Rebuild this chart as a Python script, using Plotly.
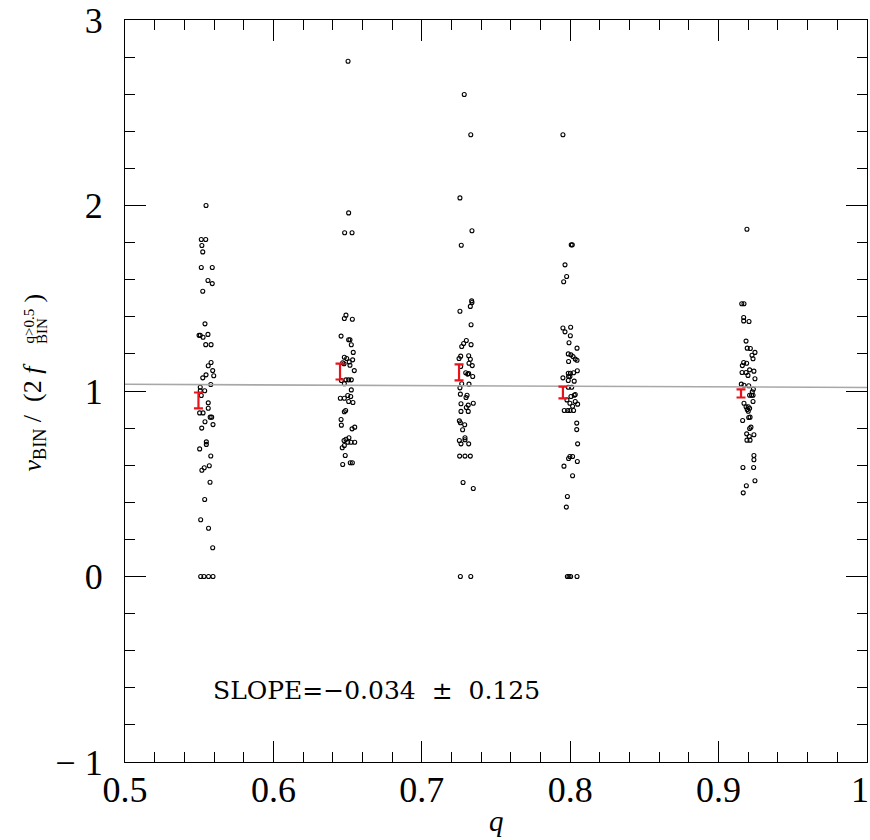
import plotly.graph_objects as go

# ---------------- data ----------------
q1 = [0.5546, 0.5514, 0.5544, 0.5518, 0.5524, 0.5514, 0.5588, 0.5559, 0.5588, 0.5524,
      0.5539, 0.5499, 0.5507, 0.5526, 0.5559, 0.5544, 0.5580, 0.5580, 0.5561, 0.5591,
      0.5546, 0.5524, 0.5598, 0.5578, 0.5507, 0.5507, 0.5537, 0.5514, 0.5561, 0.5561,
      0.5503, 0.5526, 0.5574, 0.5584, 0.5593, 0.5539, 0.5517, 0.5548, 0.5548, 0.5503,
      0.5578, 0.5568, 0.5534, 0.5518, 0.5573, 0.5537, 0.5510, 0.5563, 0.5591,
      0.5510, 0.5532, 0.5563, 0.5593]
v1 = [2.000, 1.817, 1.817, 1.784, 1.750, 1.666, 1.666, 1.596, 1.579, 1.538,
      1.362, 1.300, 1.300, 1.290, 1.305, 1.250, 1.250, 1.154, 1.136, 1.110,
      1.087, 1.071, 1.082, 1.035, 1.020, 1.001, 1.001, 0.976, 0.936, 0.907,
      0.882, 0.882, 0.859, 0.859, 0.819, 0.834, 0.800, 0.726, 0.712, 0.688,
      0.650, 0.597, 0.586, 0.573, 0.508, 0.415, 0.306, 0.260, 0.155,
      0.0, 0.0, 0.0, 0.0]

q2 = [0.6503, 0.6507, 0.6480, 0.6530, 0.6489, 0.6478, 0.6532, 0.6456, 0.6507, 0.6516,
      0.6525, 0.6538, 0.6478, 0.6494, 0.6511, 0.6534, 0.6467, 0.6476, 0.6516, 0.6545,
      0.6458, 0.6489, 0.6507, 0.6525, 0.6478, 0.6525, 0.6451, 0.6478, 0.6501, 0.6521,
      0.6507, 0.6536, 0.6478, 0.6487, 0.6456, 0.6548, 0.6530, 0.6458, 0.6509, 0.6489,
      0.6476, 0.6523, 0.6548, 0.6501, 0.6464, 0.6478, 0.6484, 0.6518, 0.6532, 0.6467]
v2 = [2.778, 1.960, 1.853, 1.853, 1.409, 1.391, 1.387, 1.296, 1.276, 1.276,
      1.249, 1.208, 1.182, 1.175, 1.157, 1.168, 1.152, 1.147, 1.139, 1.110,
      1.057, 1.060, 1.060, 1.060, 1.039, 1.006, 0.961, 0.961, 0.976, 0.970,
      0.943, 0.938, 0.888, 0.895, 0.846, 0.805, 0.796, 0.816, 0.748, 0.740,
      0.733, 0.724, 0.724, 0.724, 0.694, 0.706, 0.652, 0.613, 0.613, 0.604]

q3 = [0.7286, 0.7330, 0.7257, 0.7338, 0.7266, 0.7336, 0.7338, 0.7327, 0.7257, 0.7332,
      0.7300, 0.7282, 0.7269, 0.7332, 0.7262, 0.7251, 0.7316, 0.7327, 0.7318, 0.7340,
      0.7262, 0.7296, 0.7316, 0.7309, 0.7343, 0.7269, 0.7318, 0.7257, 0.7260, 0.7305,
      0.7298, 0.7347, 0.7264, 0.7313, 0.7300, 0.7264, 0.7313, 0.7253, 0.7260, 0.7289,
      0.7275, 0.7291, 0.7291, 0.7253, 0.7264, 0.7316, 0.7255, 0.7291, 0.7327, 0.7278,
      0.7347, 0.7260, 0.7330]
v3 = [2.598, 2.381, 2.041, 1.864, 1.786, 1.486, 1.477, 1.456, 1.430, 1.357,
      1.272, 1.256, 1.240, 1.250, 1.188, 1.175, 1.190, 1.171, 1.150, 1.137,
      1.132, 1.098, 1.094, 1.091, 1.078, 1.039, 1.037, 1.017, 0.983, 0.977,
      0.965, 0.934, 0.931, 0.924, 0.911, 0.890, 0.890, 0.839, 0.829, 0.818,
      0.791, 0.748, 0.737, 0.733, 0.715, 0.715, 0.649, 0.649, 0.649, 0.507,
      0.474, 0.0, 0.0]

q4 = [0.7951, 0.8007, 0.8014, 0.7965, 0.7976, 0.7956, 0.7951, 0.7965, 0.8003, 0.8001,
      0.7992, 0.8046, 0.7987, 0.8005, 0.8019, 0.7989, 0.8034, 0.8046, 0.7987, 0.8001,
      0.8023, 0.8048, 0.7989, 0.7998, 0.7951, 0.7987, 0.8027, 0.7987, 0.8010, 0.8005,
      0.8027, 0.8034, 0.7978, 0.7998, 0.8016, 0.8034, 0.8050, 0.7960, 0.7983, 0.7998,
      0.8023, 0.8044, 0.8044, 0.8050, 0.7998, 0.8016, 0.7989, 0.7958, 0.8048, 0.8016,
      0.7981, 0.7974, 0.7981, 0.7992, 0.8003, 0.8046]
v4 = [2.381, 1.788, 1.788, 1.680, 1.617, 1.589, 1.340, 1.319, 1.344, 1.298,
      1.260, 1.231, 1.200, 1.195, 1.186, 1.159, 1.172, 1.166, 1.096, 1.096,
      1.098, 1.109, 1.078, 1.078, 1.071, 1.057, 1.053, 1.020, 1.020, 0.970,
      0.977, 0.981, 0.952, 0.934, 0.918, 0.943, 0.929, 0.895, 0.895, 0.895,
      0.895, 0.827, 0.792, 0.715, 0.647, 0.647, 0.636, 0.595, 0.620, 0.543,
      0.431, 0.374, 0.0, 0.0, 0.0, 0.0]

q5 = [0.9191, 0.9156, 0.9171, 0.9169, 0.9169, 0.9205, 0.9185, 0.9193, 0.9214, 0.9245,
      0.9225, 0.9232, 0.9169, 0.9189, 0.9160, 0.9209, 0.9238, 0.9185, 0.9158, 0.9198,
      0.9245, 0.9153, 0.9171, 0.9203, 0.9234, 0.9227, 0.9209, 0.9222, 0.9232, 0.9171,
      0.9232, 0.9185, 0.9200, 0.9209, 0.9200, 0.9193, 0.9162, 0.9203, 0.9212, 0.9218,
      0.9209, 0.9189, 0.9207, 0.9238, 0.9191, 0.9212, 0.9238, 0.9238, 0.9164, 0.9236,
      0.9245, 0.9187, 0.9166]
v5 = [1.872, 1.470, 1.470, 1.396, 1.378, 1.375, 1.269, 1.231, 1.229, 1.208,
      1.193, 1.174, 1.154, 1.150, 1.137, 1.114, 1.107, 1.100, 1.100, 1.084,
      1.066, 1.037, 1.031, 1.028, 1.010, 0.996, 0.977, 0.977, 0.977, 0.934,
      0.943, 0.915, 0.915, 0.907, 0.891, 0.900, 0.841, 0.857, 0.859, 0.805,
      0.798, 0.769, 0.755, 0.764, 0.735, 0.735, 0.652, 0.629, 0.588, 0.588,
      0.516, 0.489, 0.451]

bin_q = [0.5495, 0.6449, 0.7251, 0.7951, 0.9151]
bin_mean = [0.949, 1.105, 1.100, 0.992, 0.987]
bin_err = [0.043, 0.043, 0.043, 0.032, 0.022]

fit_q = [0.5, 1.0]
fit_y = [1.036, 1.019]

x_ticks = [0.5, 0.6, 0.7, 0.8, 0.9]
x_ticklabels = ["0.5", "0.6", "0.7", "0.8", "0.9"]
x_last_tick = 1.0
x_last_label = "1"
y_ticks = [-1, 0, 1, 2, 3]
y_ticklabels = ["\u2212 1", "0", "1", "2", "3"]

slope_text = "SLOPE=\u22120.034  \u00b1  0.125"

# ---------------- figure ----------------
FONT = "Liberation Serif"
fig = go.Figure()

all_q = q1 + q2 + q3 + q4 + q5
all_v = v1 + v2 + v3 + v4 + v5
fig.add_trace(go.Scatter(
    x=all_q, y=all_v, mode="markers",
    marker=dict(symbol="circle-open", size=4, color="black", line=dict(width=1.1, color="black")),
    showlegend=False, hoverinfo="skip", cliponaxis=False))

fig.add_trace(go.Scatter(
    x=fit_q, y=fit_y, mode="lines",
    line=dict(color="#a8a8a8", width=1.6), showlegend=False, hoverinfo="skip"))

fig.add_trace(go.Scatter(
    x=bin_q, y=bin_mean, mode="markers",
    marker=dict(size=1, color="rgba(0,0,0,0)"),
    error_y=dict(type="data", array=bin_err, color="#e8141c", thickness=2.2, width=4.5),
    showlegend=False, hoverinfo="skip"))

axis_common = dict(
    showgrid=False, zeroline=False, showline=True, linecolor="black", linewidth=1.3,
    mirror="ticks", ticks="inside", tickcolor="black", tickwidth=1.3, ticklen=21,
    tickfont=dict(family=FONT, size=36, color="black"), automargin=False,
    ticklabeloverflow="allow",
)

fig.update_xaxes(
    range=[0.5, 1.0], tickvals=x_ticks, ticktext=x_ticklabels,
    minor=dict(ticks="inside", ticklen=10, tickwidth=1.1, tickcolor="black", dtick=0.02, tick0=0.5),
    ticklabelstandoff=-4,
    **axis_common)
fig.update_yaxes(
    range=[-1, 3], tickvals=y_ticks, ticktext=y_ticklabels,
    minor=dict(ticks="inside", ticklen=10, tickwidth=1.1, tickcolor="black", dtick=0.2, tick0=-1),
    ticklabelstandoff=14,
    **axis_common)

# the page body margin is removed by the post script, so figure pixels == window pixels
FW, FH = 870, 840
PL, PT, PW, PH = 125, 20, 742, 742


def px2paper(px, py):
    return (px - PL) / PW, (PT + PH - py) / PH


annots = []
# last x tick label, drawn inside the window
annots.append(dict(x=x_last_tick, y=0, xref="x", yref="paper", text=x_last_label, showarrow=False,
                   font=dict(family=FONT, size=36, color="black"), xanchor="right", yanchor="top",
                   xshift=4, yshift=-6))
# x title
xq, yq = px2paper(496, 821)
annots.append(dict(x=xq, y=yq, xref="paper", yref="paper", text="<i>q</i>", showarrow=False,
                   font=dict(family=FONT, size=29, color="black"), xanchor="center", yanchor="middle"))
# y title pieces
ax, ay = px2paper(33, 474)
annots.append(dict(x=ax, y=ay, xref="paper", yref="paper", textangle=-90,
                   text="<i>\u03bd</i><sub>BIN</sub> /  (2 <i>f</i>", showarrow=False,
                   font=dict(family=FONT, size=26, color="black"), xanchor="center", yanchor="bottom"))
bx, by = px2paper(28, 346)
annots.append(dict(x=bx, y=by, xref="paper", yref="paper", textangle=-90,
                   text="q>0.5", showarrow=False,
                   font=dict(family=FONT, size=15, color="black"), xanchor="center", yanchor="bottom"))
cx, cy = px2paper(42, 346)
annots.append(dict(x=cx, y=cy, xref="paper", yref="paper", textangle=-90,
                   text="BIN", showarrow=False,
                   font=dict(family=FONT, size=15, color="black"), xanchor="center", yanchor="bottom"))
dx, dy = px2paper(33, 305)
annots.append(dict(x=dx, y=dy, xref="paper", yref="paper", textangle=-90,
                   text=")", showarrow=False,
                   font=dict(family=FONT, size=26, color="black"), xanchor="center", yanchor="bottom"))
# slope text
annots.append(dict(x=0.558, y=-0.615, xref="x", yref="y", text=slope_text, showarrow=False,
                   font=dict(family="DejaVu Serif", size=25, color="black"), xanchor="left", yanchor="middle"))

fig.update_layout(
    width=FW, height=FH,
    margin=dict(l=PL, r=FW - PL - PW, t=PT, b=FH - PT - PH, autoexpand=False),
    paper_bgcolor="white", plot_bgcolor="white",
    annotations=annots,
)

fig.write_html("out.html", config={"displayModeBar": False},
               post_script="document.body.style.margin='0';document.body.style.overflow='hidden';")
